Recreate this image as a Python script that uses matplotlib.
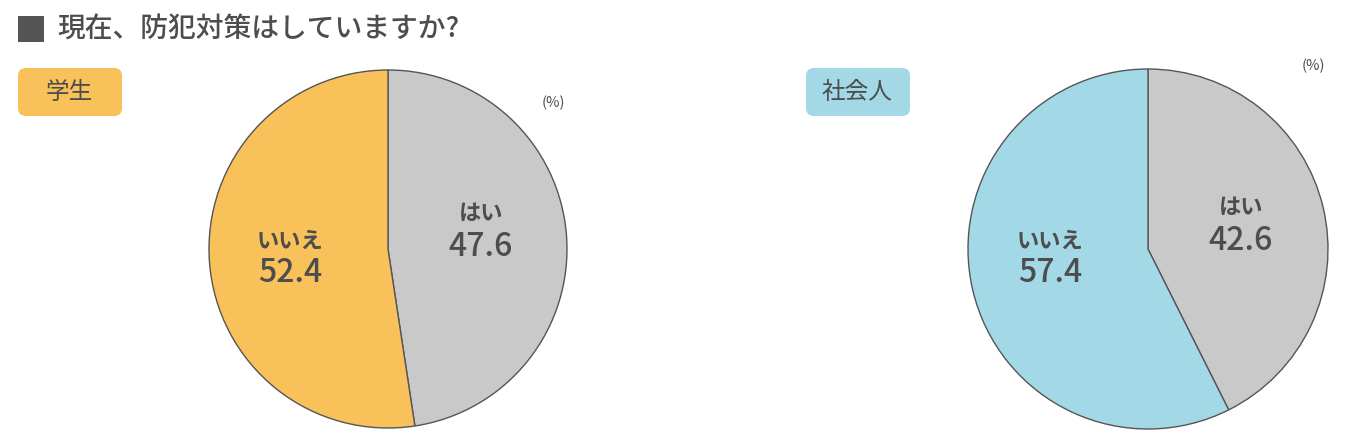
import matplotlib.pyplot as plt
from matplotlib.patches import FancyBboxPatch, Rectangle

plt.rcParams['font.family'] = ['Noto Sans CJK JP', 'DejaVu Sans']

title = '現在、防犯対策はしていますか?'
groups = ['学生', '社会人']
answers = ['はい', 'いいえ']
vals_student = [47.6, 52.4]
vals_worker = [42.6, 57.4]

gray = '#c9c9c9'
orange = '#f9c15a'
blue = '#a3d8e6'
txt = '#4d4d4d'

W, H = 1369, 443
fig = plt.figure(figsize=(W / 100, H / 100), dpi=100)
ax = fig.add_axes([0, 0, 1, 1])

# pixel coords, y measured from top
def Y(py):
    return H - py

pies = [
    (vals_student, orange, 388, 249, 179, (18, 68), (553, 103)),
    (vals_worker, blue, 1148, 249, 180, (806, 68), (1313, 66)),
]

for i, (vals, col, cx, cy, r, badge, pct) in enumerate(pies):
    ax.pie(vals, colors=[gray, col], startangle=90, counterclock=False,
           center=(cx, Y(cy)), radius=r,
           wedgeprops=dict(edgecolor='#555555', linewidth=1.0))
    # badge
    bx, by = badge
    ax.add_patch(FancyBboxPatch((bx + 8, Y(by + 48) + 8), 104 - 16, 48 - 16,
                                boxstyle='round,pad=8', fc=col, ec='none'))
    ax.text(bx + 51, Y(by + 24), groups[i], ha='center', va='center',
            fontsize=17, color=txt)
    ax.text(pct[0], Y(pct[1]), '(%)', ha='center', va='center',
            fontsize=10.5, color=txt)
    # labels
    dx_yes = cx + 93
    dx_no = cx - 98
    off = 6 if i == 0 else 0
    ax.text(dx_yes, Y(207 + off), answers[0], ha='center', va='center',
            fontsize=16, fontweight='bold', color=txt)
    ax.text(dx_yes, Y(241 + off), f'{vals[0]}', ha='center', va='center',
            fontsize=23, fontweight='medium', color=txt)
    ax.text(dx_no, Y(241), answers[1], ha='center', va='center',
            fontsize=16, fontweight='bold', color=txt)
    ax.text(dx_no, Y(273), f'{vals[1]}', ha='center', va='center',
            fontsize=23, fontweight='medium', color=txt)

# title
ax.add_patch(Rectangle((18, Y(42)), 26, 26, fc='#555555', ec='none'))
ax.text(57, Y(29), title, ha='left', va='center', fontsize=20,
        fontweight='medium', color=txt)

ax.set_xlim(0, W)
ax.set_ylim(0, H)
ax.set_aspect('equal')
ax.axis('off')

fig.savefig('out.png', dpi=100)
